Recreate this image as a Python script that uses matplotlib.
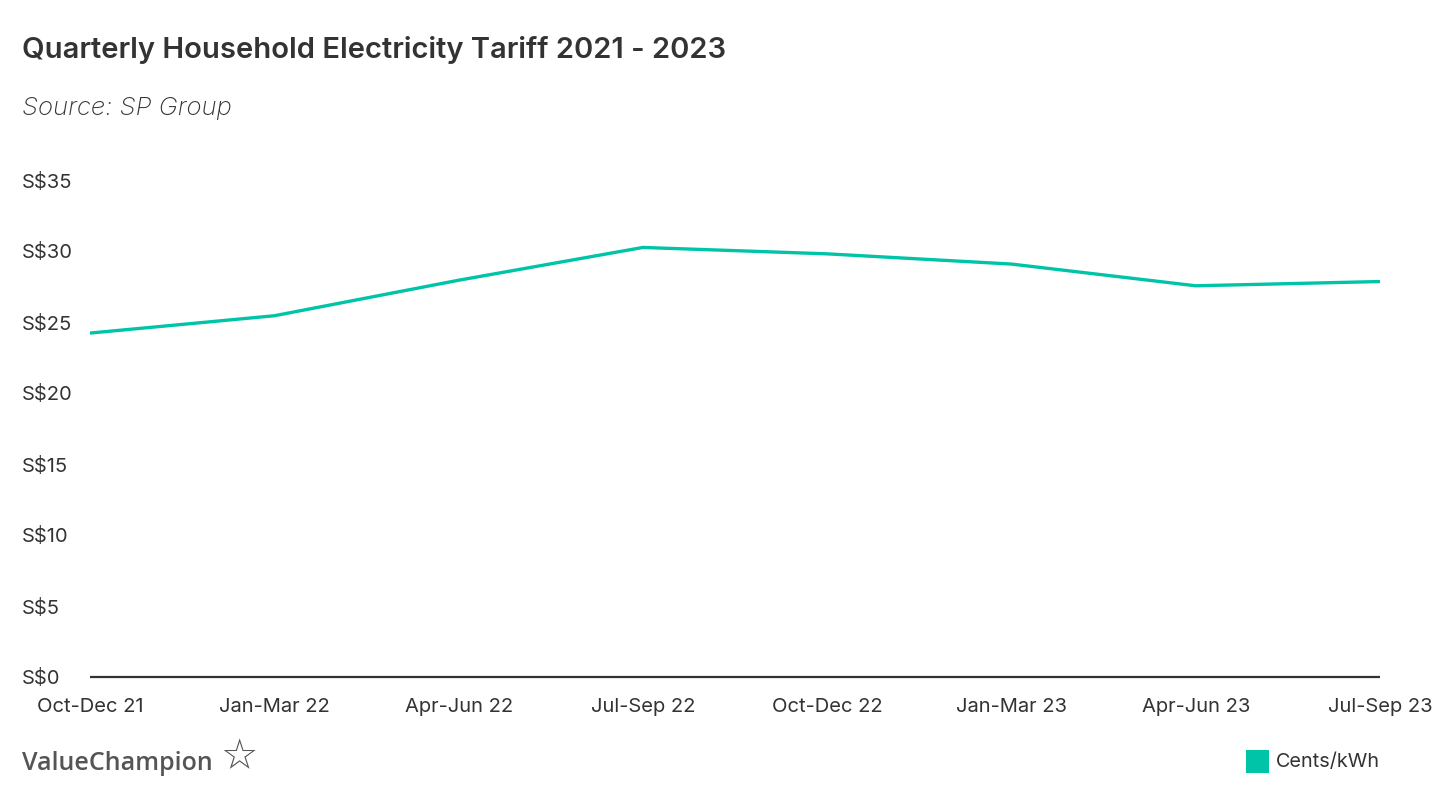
import matplotlib
matplotlib.use('Agg')
import matplotlib.pyplot as plt
from matplotlib.patches import Rectangle

# Quarterly tariff data (cents/kWh)
quarters = ['Oct-Dec 21', 'Jan-Mar 22', 'Apr-Jun 22', 'Jul-Sep 22',
            'Oct-Dec 22', 'Jan-Mar 23', 'Apr-Jun 23', 'Jul-Sep 23']
tariff = [24.22, 25.44, 27.94, 30.25, 29.80, 29.08, 27.55, 27.85]
yticks = [0, 5, 10, 15, 20, 25, 30, 35]
ytick_labels = ['S$' + str(v) for v in yticks]

teal = '#00c4a8'
text_color = '#333333'
font = ['Inter', 'DejaVu Sans']

W, H = 1434, 806
fig = plt.figure(figsize=(W / 100, H / 100), dpi=100)
ax = fig.add_axes([90 / W, 1 - 677 / H, 1290 / W, 497 / H])

ax.plot(range(len(quarters)), tariff, color=teal, linewidth=2.4, solid_capstyle='butt')
ax.set_xlim(0, len(quarters) - 1)
ax.set_ylim(0, 35)

for side in ['top', 'right', 'left']:
    ax.spines[side].set_visible(False)
ax.spines['bottom'].set_color(text_color)
ax.spines['bottom'].set_linewidth(1.6)
ax.spines['bottom'].set_capstyle('butt')

ax.set_yticks(yticks)
ax.set_yticklabels(ytick_labels, ha='left', family=font, fontsize=14.5, color=text_color)
ax.tick_params(axis='y', length=0, pad=49)
ax.set_xticks(range(len(quarters)))
ax.set_xticklabels(quarters, family=font, fontsize=14.5, color=text_color)
ax.tick_params(axis='x', length=0, pad=15)

fig.text(22 / W, 1 - 50 / H, 'Quarterly Household Electricity Tariff 2021 - 2023',
         family=font, fontsize=21, fontweight='semibold', color=text_color, va='center')
fig.text(22 / W, 1 - 108 / H, 'Source: SP Group', family=font, fontsize=18.5,
         fontstyle='italic', fontweight='light', color=text_color, va='center')

# logo
fig.text(22 / W, 1 - 764 / H, 'ValueChampion', family=['Open Sans', 'DejaVu Sans'],
         fontsize=18, fontweight='semibold', color='#555555', va='center')
fig.text(239 / W, 1 - 757 / H, '\u2606', family='DejaVu Sans', fontsize=30,
         color='#555555', va='center', ha='center')

# legend
fig.patches.append(Rectangle((1246 / W, 1 - 773 / H), 23 / W, 23 / H,
                             transform=fig.transFigure, facecolor=teal, edgecolor='none'))
fig.text(1276 / W, 1 - 762 / H, 'Cents/kWh', family=font, fontsize=14.3,
         color=text_color, va='center')

fig.savefig('out.png', dpi=100, facecolor='white')
